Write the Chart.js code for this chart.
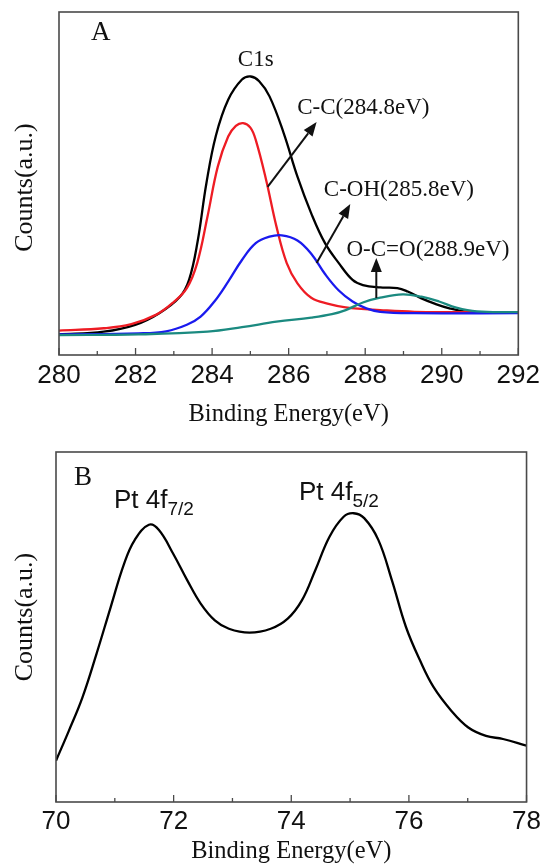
<!DOCTYPE html>
<html><head><meta charset="utf-8">
<script src="https://cdn.jsdelivr.net/npm/chart.js@4.4.1/dist/chart.umd.min.js"></script>
<style>
html,body{margin:0;padding:0;background:#fff;overflow:hidden;}
#wrapA{position:absolute;left:0;top:0;width:545px;height:434px;}
#wrapB{position:absolute;left:0;top:434px;width:545px;height:433px;}
</style></head><body>
<div id="wrapA"><canvas id="cA" width="545" height="434"></canvas></div>
<div id="wrapB"><canvas id="cB" width="545" height="433"></canvas></div>
<script>
// ---------- Panel A : C1s ----------
const aTicks = [280, 282, 284, 286, 288, 290, 292];
const envX = [280.00,281.17,281.99,282.62,283.16,283.40,283.62,283.85,284.10,284.42,284.78,285.01,285.23,285.50,285.87,286.23,286.59,286.95,287.31,287.67,287.94,288.39,288.84,289.11,289.47,289.83,290.20,290.65,291.10,292.00];
const envY = [6.0,6.8,8.8,12.2,17.0,22.0,33.0,50.0,64.0,74.4,80.3,81.2,79.8,75.4,64.7,52.0,41.3,32.6,26.8,21.9,20.4,19.7,19.5,18.5,16.5,14.9,13.6,12.6,12.5,12.4];
const ccX = [280.00,281.17,281.89,282.53,282.98,283.34,283.61,283.88,284.15,284.42,284.62,284.81,285.00,285.14,285.41,285.68,285.95,286.23,286.59,287.04,287.49,288.39,289.29,292.00];
const ccY = [7.1,7.8,9.0,11.7,15.3,19.5,26.8,40.4,55.0,63.7,66.8,67.6,66.3,62.7,51.1,37.5,26.8,20.9,16.7,14.9,13.9,13.1,12.6,12.5];
const cohX = [280.00,282.08,282.80,283.34,283.70,284.06,284.42,284.78,285.14,285.50,285.82,286.23,286.59,286.95,287.31,287.67,288.03,288.39,289.29,292.00];
const cohY = [6.0,6.3,6.9,8.8,11.2,15.6,21.4,27.7,32.6,34.5,34.9,33.4,29.5,23.6,18.8,15.6,13.6,12.6,12.2,12.2];
const ocoX = [280.00,282.08,283.88,284.78,285.68,286.59,287.13,287.49,287.94,288.39,288.98,289.47,289.93,290.38,290.92,292.00];
const ocoY = [5.8,6.0,6.8,8.1,9.7,10.9,11.9,13.1,15.3,16.7,17.7,17.0,15.6,13.8,12.7,12.5];

// ---------- Panel B : Pt 4f ----------
const bTicks = [70, 72, 74, 76, 78];
const ptX = [70.00,70.22,70.45,70.69,70.93,71.16,71.34,71.58,71.75,71.99,72.23,72.46,72.70,72.94,73.29,73.65,73.94,74.18,74.41,74.65,74.89,75.06,75.24,75.48,75.71,75.95,76.19,76.42,76.72,77.01,77.31,77.60,78.00];
const ptY = [11.8,20.4,29.9,42.4,55.7,68.2,74.9,79.2,77.7,71.0,63.4,56.7,51.9,49.5,48.4,49.5,52.4,57.6,66.3,75.8,81.5,82.5,81.1,74.9,63.4,50.0,40.4,32.8,26.1,21.3,18.9,18.0,16.1];

const SERIF = "'Liberation Serif','Times New Roman',serif";
const SANS = "'Liberation Sans',Arial,sans-serif";

function pts(xs, ys){ return xs.map((x,i)=>({x:x, y:ys[i]})); }
function ds(label, xs, ys, color){
  return {label, data: pts(xs, ys), borderColor: color, borderWidth: 2.3, pointRadius: 0,
          fill: false, tension: 0.4};
}

const framePlugin = {
  id: 'frame',
  afterDraw(c, args, o){
    const ctx = c.ctx, a = c.chartArea, xs = c.scales.x;
    ctx.save();
    ctx.strokeStyle = '#4a4a4a'; ctx.lineWidth = 1.6;
    ctx.strokeRect(a.left, a.top, a.right - a.left, a.bottom - a.top);
    ctx.lineWidth = 1.3;
    for (let v = xs.min; v <= xs.max + 1e-9; v += o.minor){
      const px = xs.getPixelForValue(v);
      const major = Math.abs(((v - xs.min) / o.major) - Math.round((v - xs.min) / o.major)) < 1e-6;
      ctx.beginPath(); ctx.moveTo(px, a.bottom); ctx.lineTo(px, a.bottom - (major ? 7 : 4)); ctx.stroke();
    }
    // y-axis title
    ctx.fillStyle = '#111'; ctx.font = o.yTitleFont;
    ctx.textAlign = 'center'; ctx.textBaseline = 'middle';
    ctx.translate(o.yTitleX, (a.top + a.bottom) / 2 + o.yTitleShift);
    ctx.rotate(-Math.PI / 2);
    ctx.fillText(o.yTitle, 0, 0);
    ctx.restore();
  }
};

const notePlugin = {
  id: 'notes',
  afterDraw(c, args, o){
    const ctx = c.ctx, xs = c.scales.x, ys = c.scales.y;
    ctx.save();
    ctx.fillStyle = '#111'; ctx.strokeStyle = '#111';
    (o.items || []).forEach(it => {
      if (it.type === 'text'){
        ctx.font = it.font; ctx.textAlign = it.align || 'center'; ctx.textBaseline = 'middle';
        ctx.fillText(it.text, xs.getPixelForValue(it.x), ys.getPixelForValue(it.y));
      } else if (it.type === 'sub'){
        const px = xs.getPixelForValue(it.x), py = ys.getPixelForValue(it.y);
        ctx.font = it.font; ctx.textAlign = 'left'; ctx.textBaseline = 'alphabetic';
        ctx.fillText(it.text, px, py);
        const w = ctx.measureText(it.text).width;
        ctx.font = it.subFont;
        ctx.fillText(it.sub, px + w, py + it.drop);
      } else if (it.type === 'arrow'){
        const x1 = xs.getPixelForValue(it.x1), y1 = ys.getPixelForValue(it.y1);
        const x2 = xs.getPixelForValue(it.x2), y2 = ys.getPixelForValue(it.y2);
        const ang = Math.atan2(y2 - y1, x2 - x1), L = 14, W = 5.5;
        const bx = x2 - L * Math.cos(ang), by = y2 - L * Math.sin(ang);
        ctx.lineWidth = 2;
        ctx.beginPath(); ctx.moveTo(x1, y1); ctx.lineTo(bx, by); ctx.stroke();
        ctx.beginPath(); ctx.moveTo(x2, y2);
        ctx.lineTo(bx + W * Math.sin(ang), by - W * Math.cos(ang));
        ctx.lineTo(bx - W * Math.sin(ang), by + W * Math.cos(ang));
        ctx.closePath(); ctx.fill();
      }
    });
    ctx.restore();
  }
};

function makeChart(id, cfg){
  return new Chart(document.getElementById(id), {
    type: 'line',
    data: { datasets: cfg.datasets },
    options: {
      responsive: false, animation: false, devicePixelRatio: 1,
      layout: { padding: cfg.padding },
      plugins: { legend: {display:false}, tooltip: {enabled:false},
                 frame: { minor: 1, major: 2, yTitle: 'Counts(a.u.)', yTitleFont: "26px " + SERIF,
                          yTitleX: 25, yTitleShift: cfg.yShift },
                 notes: { items: cfg.notes } },
      scales: {
        x: { type: 'linear', min: cfg.xmin, max: cfg.xmax,
             afterBuildTicks: s => { s.ticks = cfg.ticks.map(v => ({value: v})); },
             afterFit: s => { s.height = cfg.xh; },
             grid: { display: false, drawTicks: false }, border: { display: false },
             ticks: { font: { family: SANS, size: 26 }, color: '#111', padding: cfg.tickPad, maxRotation: 0,
                      callback: v => String(v) },
             title: { display: true, text: 'Binding Energy(eV)', color: '#111',
                      font: { family: SERIF, size: 24.5 }, padding: { top: 0, bottom: cfg.titlePad } } },
        y: { type: 'linear', min: 0, max: 100,
             afterFit: s => { s.width = cfg.yw; },
             grid: { display: false, drawTicks: false }, border: { display: false },
             ticks: { display: false },
             title: { display: false } }
      }
    },
    plugins: [framePlugin, notePlugin]
  });
}

makeChart('cA', {
  datasets: [
    ds('O-C=O', ocoX, ocoY, '#1b8a80'),
    ds('C-OH', cohX, cohY, '#1a1aee'),
    ds('C-C', ccX, ccY, '#ee1c24'),
    ds('C1s', envX, envY, '#000000')
  ],
  padding: { top: 12, right: 24, left: 0, bottom: 0 },
  xmin: 280, xmax: 292, ticks: aTicks, xh: 79, yw: 59, tickPad: 5, titlePad: 5, yShift: 4,
  notes: [
    { type:'text', text:'A', x:281.09, y:93.9, font:"27px " + SERIF },
    { type:'text', text:'C1s', x:285.14, y:86.0, font:"23px " + SERIF },
    { type:'text', text:'C-C(284.8eV)', x:287.95, y:72.0, font:"23px " + SERIF },
    { type:'text', text:'C-OH(285.8eV)', x:288.88, y:48.1, font:"23px " + SERIF },
    { type:'text', text:'O-C=O(288.9eV)', x:289.64, y:30.6, font:"23px " + SERIF },
    { type:'arrow', x1:285.45, y1:49.0, x2:286.73, y2:67.9 },
    { type:'arrow', x1:286.73, y1:26.8, x2:287.61, y2:44.0 },
    { type:'arrow', x1:288.29, y1:16.6, x2:288.29, y2:28.3 }
  ]
});

makeChart('cB', {
  datasets: [ ds('Pt 4f', ptX, ptY, '#000000') ],
  padding: { top: 18, right: 18, left: 0, bottom: 0 },
  xmin: 70, xmax: 78, ticks: bTicks, xh: 65, yw: 56, tickPad: 4, titlePad: 1, yShift: -10,
  notes: [
    { type:'text', text:'B', x:70.46, y:92.6, font:"27px " + SERIF },
    { type:'sub', text:'Pt 4f', sub:'7/2', x:70.985, y:84.0, drop:7, font:"26px " + SANS, subFont:"19px " + SANS },
    { type:'sub', text:'Pt 4f', sub:'5/2', x:74.13, y:86.2, drop:7, font:"26px " + SANS, subFont:"19px " + SANS }
  ]
});
</script>
</body></html>
